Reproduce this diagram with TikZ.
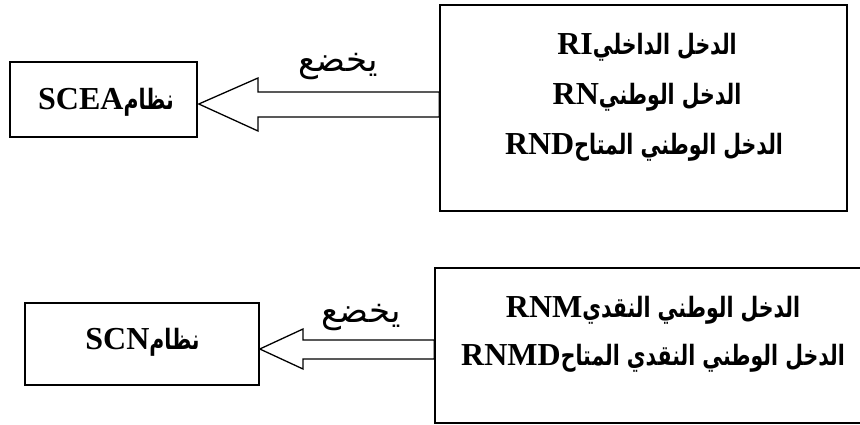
\documentclass[tikz,border=0pt]{standalone}
\usepackage{fontspec}
\setmainfont{Liberation Serif}
\newfontfamily\arabicbox[Script=Arabic, FakeStretch=0.73]{DejaVu Sans}
\newfontfamily\arabicverb[Script=Arabic]{DejaVu Sans}
\newfontfamily\latinfont{Liberation Serif}
\TeXXeTstate=1
\newcommand{\lat}[1]{\beginL{\latinfont\bfseries\fontsize{32}{36}\selectfont #1}\endL}
\tikzset{
  boxline/.style={draw=black, line width=1.6pt},
  arrowline/.style={draw=black, line width=1.3pt, line join=miter},
  boxtext/.style={font=\arabicbox\bfseries\fontsize{28}{32}\selectfont, inner sep=0pt},
  verbtext/.style={font=\arabicverb\fontsize{34}{38}\selectfont, inner sep=0pt}
}
\begin{document}
\begin{tikzpicture}[x=1pt,y=-1pt]
\useasboundingbox (0,0) rectangle (860,425);
\fill[white] (0,0) rectangle (860,425);
\clip (0,0) rectangle (860,425);
% boxes
\node[boxline, minimum width=187pt, minimum height=75pt, inner sep=0pt] (L1) at (103.5,99.5) {};
\node[boxline, minimum width=407pt, minimum height=206pt, inner sep=0pt] (R1) at (643.5,108) {};
\node[boxline, minimum width=234pt, minimum height=82pt, inner sep=0pt] (L2) at (142,344) {};
\node[boxline, minimum width=436pt, minimum height=155pt, inner sep=0pt] (R2) at (653,345.5) {};
% texts
\node[boxtext] (tL1) at (106,102) {\beginR نظام\lat{SCEA}\endR};
\node[boxtext] (tR1a) at (647,47) {\beginR الدخل الداخلي\lat{RI}\endR};
\node[boxtext] (tR1b) at (647,97) {\beginR الدخل الوطني\lat{RN}\endR};
\node[boxtext] (tR1c) at (644,147) {\beginR الدخل الوطني المتاح\lat{RND}\endR};
\node[boxtext] (tL2) at (142.5,342) {\beginR نظام\lat{SCN}\endR};
\node[boxtext] (tR2a) at (653,310) {\beginR الدخل الوطني النقدي\lat{RNM}\endR};
\node[boxtext] (tR2b) at (653,358) {\beginR الدخل الوطني النقدي المتاح\lat{RNMD}\endR};
% block arrows
\coordinate (t1) at ([xshift=1pt,yshift=-4.5pt]L1.east);
\draw[arrowline] (t1) -- (258,78) -- (258,92) -- (R1.west |- 0,92) -- (R1.west |- 0,117) -- (258,117) -- (258,131) -- cycle;
\coordinate (t2) at ([xshift=0pt,yshift=-5pt]L2.east);
\draw[arrowline] (t2) -- (303,329) -- (303,340) -- (R2.west |- 0,340) -- (R2.west |- 0,359) -- (303,359) -- (303,369) -- cycle;
% verb labels
\node[verbtext] (v1) at (338,67) {\beginR يخضع\endR};
\node[verbtext] (v2) at (361,318) {\beginR يخضع\endR};
\end{tikzpicture}
\end{document}
